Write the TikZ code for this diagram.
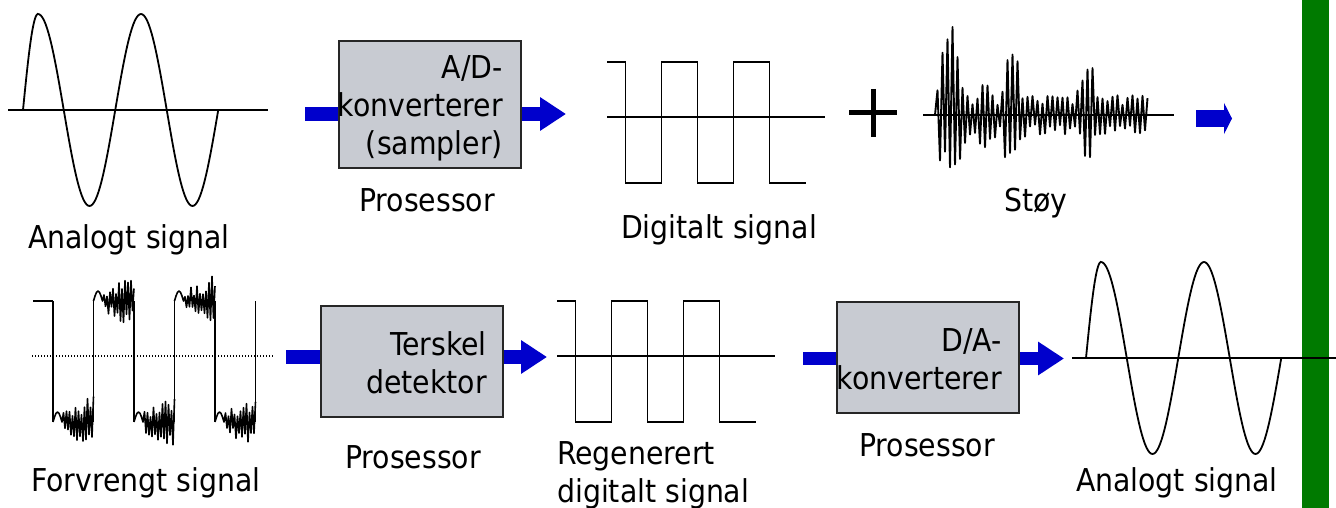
\documentclass[tikz,border=0pt]{standalone}
\usepackage{fontspec}
\setmainfont{DejaVu Sans Condensed}
\usetikzlibrary{arrows.meta,calc}
\definecolor{boxgray}{RGB}{200,203,210}
\definecolor{flowblue}{RGB}{0,0,204}
\definecolor{bargreen}{RGB}{0,122,0}
\newcommand{\analogwave}[2]{\draw[sig] (#1,#2) -- plot[domain=0:15,samples=20] ({#1+\x},{#2-96*sin(\x*6)})
  -- plot[domain=0:180.25,samples=120] ({#1+15+\x},{#2-96*cos(\x/103*360)});}
\newcommand{\digitalwave}[2]{\draw[sig] (#1,#2) -| ++(18.5,121) -| ++(36,-121) -| ++(36,121) -| ++(36,-121) -| ++(36,121) -- ++(36,0);
  \draw[sig] (#1,#2+55) -- ++(218,0);}
\newcommand{\noisyseg}[2]{\draw[noisy] (#1,#2) \foreach \i in {1,...,27} {-- ({#1+\i*1.5},{#2-(\i<7 ? 10*sin(\i*30) : (2*mod(\i,2)-1)*(0.3+0.7*rnd)*(4+0.9*\i))})};}

\begin{document}
\begin{tikzpicture}[x=1pt,y=-1pt,
  sig/.style={line width=1.8pt,line join=miter},
  noisy/.style={line width=1.6pt,line join=round},
  lbl/.style={font=\fontsize{31.5}{38}\selectfont,inner sep=0pt},
  procbox/.style={draw=black!85,line width=1.5pt,fill=boxgray,minimum width=182pt},
  flow/.style={draw=flowblue,line width=14pt},
  flowtip/.style={flow,-{Triangle[length=26pt,width=32pt]}}]
\useasboundingbox (0,0) rectangle (1336,508);
\pgfmathsetseed{12}
\fill[bargreen] (1302,0) rectangle (1329,508);

% first row
\draw[sig] (8,110) -- (268,110);
\analogwave{23}{110}
\node[lbl] (analog1) at (129,240) {Analogt signal};
\coordinate (adin) at (305,114);
\coordinate (adout) at (566,114);
\node[procbox,minimum height=127pt] (ad) at (430,104.5) {};
\draw[flow] (adin) -- (adin -| ad.west);
\draw[flowtip] (adin -| ad.east) -- (adout);
\node[lbl,align=right,anchor=east] (adtxt) at (503,108) {A/D-\\konverterer\\(sampler)};
\node[lbl] (proc1) at (427,200) {Prosessor};
\digitalwave{607}{62}
\node[lbl] (digital1) at (719,230) {Digitalt signal};
\draw[line width=5pt] (849,113) -- (897,113) (873,89) -- (873,137);
\draw[sig] (923,115) -- (1174,115);
\draw[noisy,line width=1.9pt] (935,115) \foreach \i in {1,...,85} {-- ({935+2.5*\i},{115+(1-2*mod(\i,2))*(0.45+0.55*rnd)*(20+76*exp(-((\i-6)/4)*((\i-6)/4))+62*exp(-((\i-31)/3)*((\i-31)/3))+60*exp(-((\i-61)/2.5)*((\i-61)/2.5))+16*exp(-((\i-20)/3)*((\i-20)/3)))})};
\node[lbl] (noise) at (1036,203) {Støy};
\coordinate (sumin) at (1196,118.5);
\coordinate (sumout) at (1232,118.5);
\draw[flow,line width=17pt,-{Triangle[length=8pt,width=31pt]}] (sumin) -- (sumout);

% second row
\draw[sig,line width=1.3pt,dash pattern=on 1.3pt off 1.7pt] (32,356) -- (273,356);
\draw[sig] (33,301) -- (53,301);
\foreach \x in {53,93.5,134,174.5,215,255.5} \draw[sig] (\x,301) -- (\x,422);
\foreach \k/\lev in {0/422,1/301,2/422,3/301,4/422} {\noisyseg{53+40.5*\k}{\lev}}
\node[lbl] (distorted) at (146,483) {Forvrengt signal};
\coordinate (thin) at (286,357);
\coordinate (thout) at (547,357);
\node[procbox,minimum height=111pt] (th) at (412,361.5) {};
\draw[flow] (thin) -- (thin -| th.west);
\draw[flowtip] (thin -| th.east) -- (thout);
\node[lbl,align=right,anchor=east] (thtxt) at (487,362.5) {Terskel\\detektor};
\node[lbl] (proc2) at (413,457) {Prosessor};
\digitalwave{557}{301}
\node[lbl,align=left,anchor=west] (digital2) at (557,475) {Regenerert\\digitalt signal};
\coordinate (dain) at (803,358.5);
\coordinate (daout) at (1064,358.5);
\node[procbox,minimum height=111pt] (da) at (928,357.5) {};
\draw[flow,line width=13pt] (dain) -- (dain -| da.west);
\draw[flowtip,line width=13pt] (dain -| da.east) -- (daout);
\node[lbl,align=right,anchor=east] (datxt) at (1002,359.5) {D/A-\\konverterer};
\node[lbl] (proc3) at (927,445) {Prosessor};
\draw[sig] (1072,358) -- (1336,358);
\analogwave{1086}{358}
\node[lbl] (analog2) at (1177,483) {Analogt signal};
\end{tikzpicture}
\end{document}
